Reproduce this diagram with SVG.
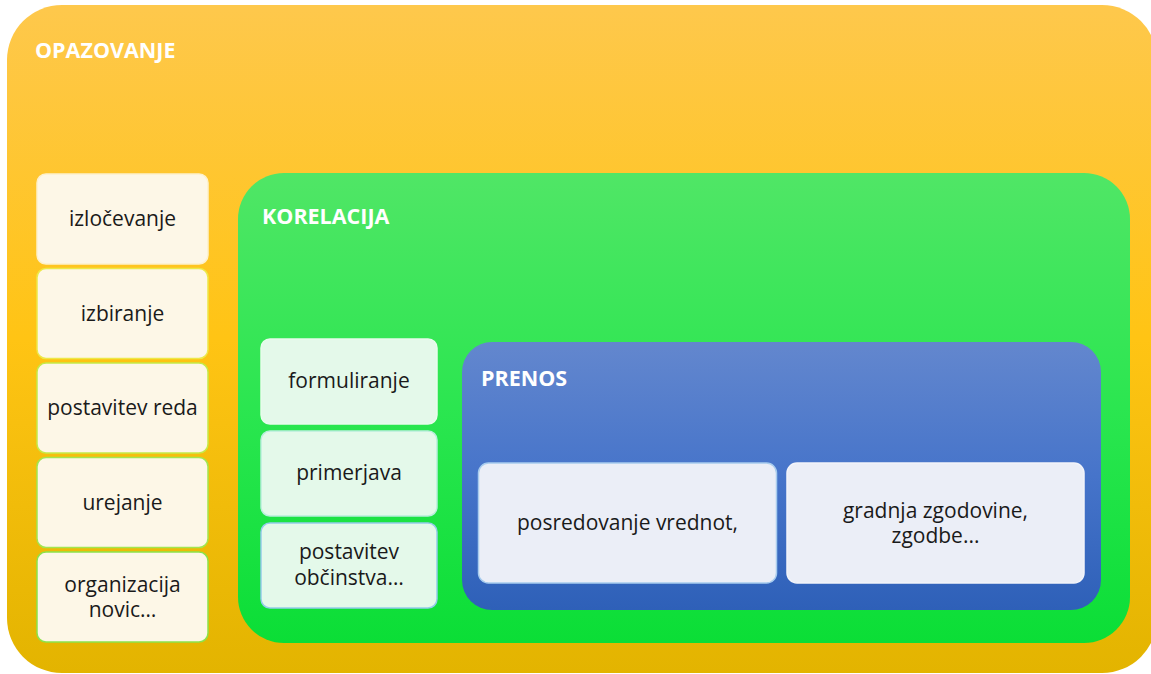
<svg xmlns="http://www.w3.org/2000/svg" width="1151" height="674" viewBox="0 0 1151 674">
  <defs>
    <linearGradient id="gOrange" x1="0" y1="0" x2="0" y2="1">
      <stop offset="0" stop-color="#FEC84C"/>
      <stop offset="0.5" stop-color="#FFC414"/>
      <stop offset="1" stop-color="#E3B400"/>
    </linearGradient>
    <linearGradient id="gGreen" x1="0" y1="0" x2="0" y2="1">
      <stop offset="0" stop-color="#50E666"/>
      <stop offset="0.5" stop-color="#2BE650"/>
      <stop offset="1" stop-color="#0BDE36"/>
    </linearGradient>
    <linearGradient id="gBlue" x1="0" y1="0" x2="0" y2="1">
      <stop offset="0" stop-color="#6387CE"/>
      <stop offset="0.5" stop-color="#4674CA"/>
      <stop offset="1" stop-color="#2E60B8"/>
    </linearGradient>
  </defs>
  <style>
    .hdr { font-family: "Open Sans", "Liberation Sans", sans-serif; font-weight: bold; font-size: 21.5px; fill: #FFFFFF; }
    .lbl { font-family: "Open Sans", "Liberation Sans", sans-serif; font-size: 21px; fill: #1A1A1A; text-anchor: middle; }
    .cream { fill: #FDF7E7; stroke-width: 1.5; }
    .mint { fill: #E4F9EA; stroke-width: 1.5; }
    .ice { fill: #EBEEF7; stroke-width: 1.5; }
  </style>

  <g id="opazovanje">
    <rect x="7" y="5" width="1150" height="668" rx="55" ry="55" fill="url(#gOrange)"/>
    <text class="hdr" x="35" y="58">OPAZOVANJE</text>
  </g>

  <g id="izlocevanje">
    <rect class="cream" x="37" y="174" width="171" height="90" rx="9" stroke="#FDF1CC"/>
    <text class="lbl" x="122.5" y="226">izločevanje</text>
  </g>
  <g id="izbiranje">
    <rect class="cream" x="37" y="268.5" width="171" height="90" rx="9" stroke="#EDE848"/>
    <text class="lbl" x="122.5" y="320.5">izbiranje</text>
  </g>
  <g id="postavitev-reda">
    <rect class="cream" x="37" y="363" width="171" height="90" rx="9" stroke="#C5EA48"/>
    <text class="lbl" x="122.5" y="415">postavitev reda</text>
  </g>
  <g id="urejanje">
    <rect class="cream" x="37" y="457.5" width="171" height="90" rx="9" stroke="#A2E64E"/>
    <text class="lbl" x="122.5" y="510">urejanje</text>
  </g>
  <g id="organizacija-novic">
    <rect class="cream" x="37" y="552" width="171" height="90" rx="9" stroke="#8CE34A"/>
    <text class="lbl" x="122.5" y="592">organizacija</text>
    <text class="lbl" x="122.5" y="617">novic…</text>
  </g>

  <g id="korelacija">
    <rect x="238" y="173" width="892" height="470" rx="46" ry="46" fill="url(#gGreen)"/>
    <text class="hdr" x="262" y="224">KORELACIJA</text>
  </g>

  <g id="formuliranje">
    <rect class="mint" x="261" y="339" width="176" height="85" rx="9" stroke="#E8FBEC"/>
    <text class="lbl" x="349" y="388">formuliranje</text>
  </g>
  <g id="primerjava">
    <rect class="mint" x="261" y="431" width="176" height="85" rx="9" stroke="#B8EEDC"/>
    <text class="lbl" x="349" y="480">primerjava</text>
  </g>
  <g id="postavitev-obcinstva">
    <rect class="mint" x="261" y="523" width="176" height="85" rx="9" stroke="#94CCEA"/>
    <text class="lbl" x="349" y="559">postavitev</text>
    <text class="lbl" x="349" y="585">občinstva…</text>
  </g>

  <g id="prenos">
    <rect x="462" y="342" width="639" height="268" rx="30" ry="30" fill="url(#gBlue)"/>
    <text class="hdr" x="481" y="386">PRENOS</text>
  </g>

  <g id="posredovanje-vrednot">
    <rect class="ice" x="478.5" y="463" width="298" height="120" rx="10" stroke="#A8CCEE"/>
    <text class="lbl" x="627.5" y="530">posredovanje vrednot,</text>
  </g>
  <g id="gradnja-zgodovine">
    <rect class="ice" x="787" y="463" width="297" height="120" rx="10" stroke="#F2F4FA"/>
    <text class="lbl" x="935.5" y="518">gradnja zgodovine,</text>
    <text class="lbl" x="935.5" y="543">zgodbe...</text>
  </g>

  <g id="connectors"/>
</svg>
